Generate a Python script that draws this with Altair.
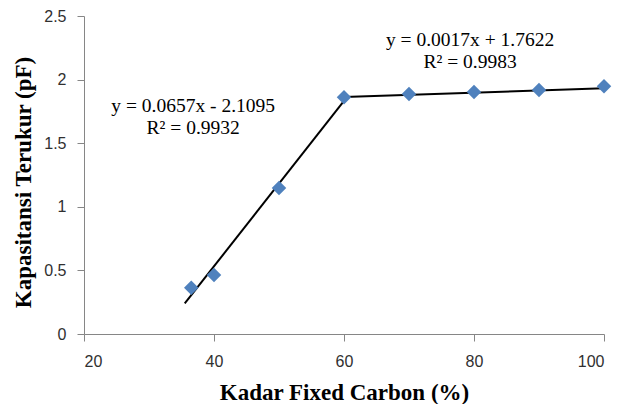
import altair as alt
import pandas as pd

x_vals = [36.5, 40, 50, 60, 70, 80, 90, 100]
y_vals = [0.364, 0.464, 1.148, 1.862, 1.887, 1.903, 1.918, 1.948]

line1_x = [35.5, 60]
line1_y = [0.24, 1.832]
line2_x = [60, 100]
line2_y = [1.864, 1.932]

labels = ["y = 0.0657x - 2.1095", "R² = 0.9932", "y = 0.0017x + 1.7622", "R² = 0.9983"]
label_x = [36.8, 36.8, 79.4, 79.4]
label_y = [1.79, 1.62, 2.31, 2.135]

pts = pd.DataFrame({"x": x_vals, "y": y_vals})
lines = pd.DataFrame({
    "x": line1_x + line2_x,
    "y": line1_y + line2_y,
    "seg": ["a", "a", "b", "b"],
})
txt = pd.DataFrame({"x": label_x, "y": label_y, "t": labels})

xs = alt.Scale(domain=[20, 100], nice=False, zero=False)
ys = alt.Scale(domain=[0, 2.5], nice=False)

axis_common = dict(
    grid=False,
    domainColor="#868686",
    tickColor="#868686",
    tickSize=7,
    labelFont="Liberation Sans",
    labelFontSize=16,
    labelColor="#303030",
    titleFont="Liberation Serif",
    titleFontSize=23,
    titleFontWeight="bold",
    titleColor="#000000",
)

points = alt.Chart(pts).mark_point(
    shape="diamond", filled=True, size=210, color="#4F81BD", opacity=1
).encode(
    x=alt.X("x:Q", scale=xs, title="Kadar Fixed Carbon (%)",
            axis=alt.Axis(values=[20, 40, 60, 80, 100], labelPadding=12, titlePadding=12, **axis_common)),
    y=alt.Y("y:Q", scale=ys, title="Kapasitansi Terukur (pF)",
            axis=alt.Axis(values=[0, 0.5, 1, 1.5, 2, 2.5], labelExpr="datum.value + ''",
                          labelPadding=11, titlePadding=8, titleY=166, **axis_common)),
)

trend = alt.Chart(lines).mark_line(color="black", strokeWidth=2).encode(
    x=alt.X("x:Q", scale=xs),
    y=alt.Y("y:Q", scale=ys),
    detail="seg:N",
)

text = alt.Chart(txt).mark_text(
    font="Liberation Serif", fontSize=19.5, color="#000000", align="center", baseline="middle"
).encode(
    x=alt.X("x:Q", scale=xs),
    y=alt.Y("y:Q", scale=ys),
    text="t:N",
)

chart = alt.layer(trend, points, text).properties(
    width=520,
    height=318,
    autosize=alt.AutoSizeParams(type="none"),
    padding={"left": 76, "top": 8, "right": 8, "bottom": 70},
).configure_view(stroke=None)

chart.save("out.html", embed_options={"renderer": "svg", "actions": False})
